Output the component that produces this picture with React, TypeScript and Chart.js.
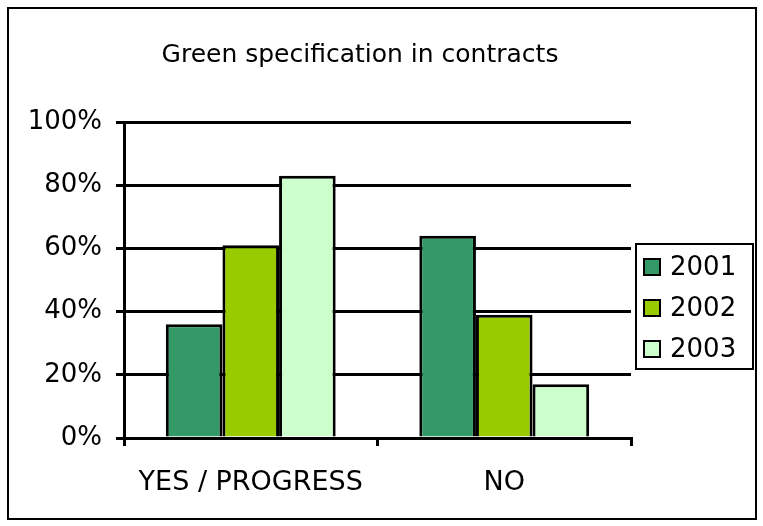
import React, { useEffect, useRef } from 'react';
import { Chart, registerables } from 'chart.js';

Chart.register(...registerables);

const chartTitle = 'Green specification in contracts';
const categories = ['YES / PROGRESS', 'NO'];
const seriesNames = ['2001', '2002', '2003'];
const values2001 = [36, 64];
const values2002 = [61, 39];
const values2003 = [83, 17];
const yTickValues = [0, 20, 40, 60, 80, 100];
const seriesColors = ['#339966', '#99CC00', '#CCFFCC'];

const FONT = '"DejaVu Sans", sans-serif';

const overlayPlugin = {
  id: 'overlay',
  afterDraw(chart: any) {
    const ctx = chart.ctx as CanvasRenderingContext2D;
    ctx.save();
    // outer frame
    ctx.strokeStyle = '#000';
    ctx.lineWidth = 2;
    ctx.strokeRect(8, 8, 748, 511);
    // title
    ctx.fillStyle = '#000';
    ctx.font = `25px ${FONT}`;
    ctx.textAlign = 'center';
    ctx.textBaseline = 'middle';
    ctx.fillText(chartTitle, 360, 55);
    // legend
    ctx.strokeRect(636, 244, 117, 125);
    ctx.font = `26px ${FONT}`;
    ctx.textAlign = 'left';
    chart.data.datasets.forEach((ds: any, i: number) => {
      const cy = 267 + i * 41;
      ctx.fillStyle = ds.backgroundColor;
      ctx.fillRect(644, cy - 8, 16, 16);
      ctx.lineWidth = 2;
      ctx.strokeStyle = '#000';
      ctx.strokeRect(644, cy - 8, 16, 16);
      ctx.fillStyle = '#000';
      ctx.fillText(ds.label, 670, cy + 1);
    });
    ctx.restore();
  },
};

export default function App() {
  const ref = useRef<HTMLCanvasElement | null>(null);
  useEffect(() => {
    document.body.style.margin = '0';
    const canvas = ref.current!;
    const seriesValues = [values2001, values2002, values2003];
    const chart = new Chart(canvas, {
      type: 'bar',
      data: {
        labels: categories,
        datasets: seriesNames.map((name, i) => ({
          label: name,
          data: seriesValues[i],
          backgroundColor: seriesColors[i],
          borderColor: '#000',
          borderWidth: 3,
          categoryPercentage: 0.67,
          barPercentage: 1,
        })),
      },
      options: {
        responsive: false,
        animation: false,
        devicePixelRatio: 1,
        layout: { padding: { top: 122, right: 132, bottom: 0, left: 12 } },
        plugins: {
          legend: { display: false },
          title: { display: false },
          tooltip: { enabled: false },
        },
        scales: {
          x: {
            grid: {
              offset: true,
              drawOnChartArea: false,
              drawTicks: true,
              tickLength: 8,
              color: '#000',
              lineWidth: 3,
            },
            border: { display: true, color: '#000', width: 3 },
            ticks: {
              color: '#000',
              font: { family: FONT, size: 27 },
              padding: 21,
              maxRotation: 0,
            },
            afterFit: (s: any) => {
              s.height = 88;
            },
          },
          y: {
            min: 0,
            max: 100,
            afterBuildTicks: (s: any) => {
              s.ticks = yTickValues.map((v) => ({ value: v }));
            },
            grid: {
              color: '#000',
              lineWidth: 3,
              tickLength: 8,
            },
            border: { display: true, color: '#000', width: 3 },
            ticks: {
              color: '#000',
              font: { family: FONT, size: 26 },
              padding: 14,
              callback: (v: any) => v + '%',
            },
            afterFit: (s: any) => {
              s.width = 112;
            },
          },
        },
      },
      plugins: [overlayPlugin],
    });
    return () => chart.destroy();
  }, []);
  return <canvas ref={ref} width={763} height={526} style={{ display: 'block' }} />;
}
